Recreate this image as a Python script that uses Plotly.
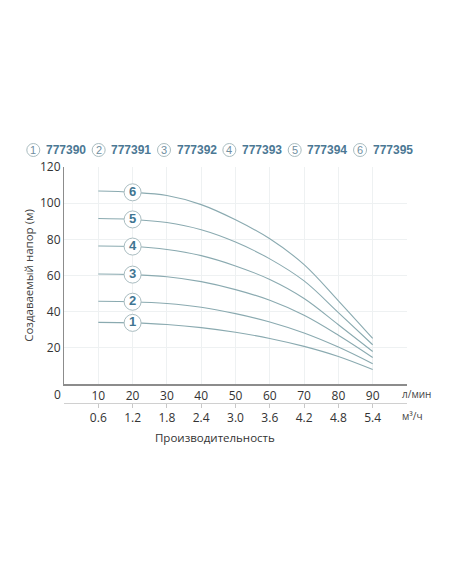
import plotly.graph_objects as go

# ---------------- data ----------------
flow_lpm = [10, 20, 30, 40, 50, 60, 70, 80, 90]
flow_m3h_labels = ["0.6", "1.2", "1.8", "2.4", "3.0", "3.6", "4.2", "4.8", "5.4"]
models = ["777390", "777391", "777392", "777393", "777394", "777395"]
curve_numbers = ["1", "2", "3", "4", "5", "6"]

head_1 = [34.1, 33.8, 32.9, 31.2, 28.6, 25.2, 20.8, 15.2, 8.0]
head_2 = [45.8, 45.5, 44.5, 42.4, 38.9, 34.3, 28.2, 20.4, 11.2]
head_3 = [60.8, 60.5, 59.3, 56.6, 52.2, 46.3, 38.0, 27.0, 14.7]
head_4 = [76.3, 76.0, 74.4, 71.0, 65.3, 57.8, 47.3, 32.8, 18.0]
head_5 = [91.5, 91.0, 89.3, 85.3, 78.5, 69.2, 57.0, 39.5, 21.7]
head_6 = [106.7, 106.0, 104.2, 99.2, 90.8, 80.3, 66.0, 46.0, 25.2]
heads = [head_1, head_2, head_3, head_4, head_5, head_6]

label_flow = 20  # where the circled numbers sit on each curve

y_ticks = [20, 40, 60, 80, 100, 120]

# ---------------- style ----------------
FONT = "Open Sans"
LINE_COLOR = "#8aaab0"
NUM_COLOR = "#3f7592"
TXT_COLOR = "#4b7894"
CIRCLE_EDGE = "#a9bcc0"

fig = go.Figure()

for h in heads:
    fig.add_trace(go.Scatter(
        x=flow_lpm, y=h, mode="lines",
        line=dict(color=LINE_COLOR, width=1.1, shape="spline", smoothing=1.0),
        showlegend=False, hoverinfo="skip"))

# circled labels on the curves
li = flow_lpm.index(label_flow)
fig.add_trace(go.Scatter(
    x=[label_flow] * len(heads), y=[h[li] for h in heads],
    mode="markers+text", text=curve_numbers, textposition="middle center",
    textfont=dict(family="Liberation Sans", size=13, color=NUM_COLOR, weight="bold"),
    marker=dict(symbol="circle", size=17, color="white",
                line=dict(color=CIRCLE_EDGE, width=1)),
    showlegend=False, hoverinfo="skip"))

# invisible trace to carry the secondary (m3/h) axis
fig.add_trace(go.Scatter(x=flow_lpm, y=[None] * len(flow_lpm), xaxis="x2",
                         mode="lines", showlegend=False, hoverinfo="skip"))

# ---------------- layout ----------------
OFF = 8  # page body margin
W, H = 452 - OFF, 584 - OFF
ml, mr, mt, mb = 64 - OFF, 45, 167 - OFF, 181
plot_w = W - ml - mr
plot_h = H - mt - mb
y_dom0 = 19 / plot_h

fig.update_layout(
    width=W, height=H,
    margin=dict(l=ml, r=mr, t=mt, b=mb, autoexpand=False),
    paper_bgcolor="white", plot_bgcolor="white",
    font=dict(family=FONT, size=12, color="#333333"),
    xaxis=dict(range=[0, 100], tickvals=flow_lpm, ticks="",
               showgrid=True, gridcolor="#eef1f2", gridwidth=1,
               showline=True, linecolor="#8c8c8c", linewidth=1.5,
               zeroline=False, tickfont=dict(size=12, color="#333333"),
               anchor="y", automargin=False),
    xaxis2=dict(range=[0, 100], tickvals=flow_lpm, ticktext=flow_m3h_labels,
                overlaying="x", anchor="free", position=0, side="bottom",
                ticks="outside", ticklen=4, tickcolor="#c8c8c8",
                showline=True, linecolor="#d0d0d0", linewidth=1,
                showgrid=False, zeroline=False, automargin=False,
                tickfont=dict(size=12, color="#333333")),
    yaxis=dict(range=[0, 120], tickvals=y_ticks, domain=[y_dom0, 1],
               showgrid=True, gridcolor="#eef1f2", gridwidth=1,
               showline=True, linecolor="#8c8c8c", linewidth=1,
               zeroline=False, ticks="", tickfont=dict(size=12, color="#333333"),
               automargin=False,
               title=dict(text="Создаваемый напор (м)", standoff=3,
                          font=dict(size=11.5, color="#444444"))),
)

def px_x(px):
    return (px - OFF - ml) / plot_w

def px_y(py):
    return (H - mb - (py - OFF)) / plot_h

# legend row: circled numbers + model codes
leg_y = px_y(150)
leg_x0 = 33.3
leg_dx = 65.35
for i, (num, model) in enumerate(zip(curve_numbers, models)):
    cx = leg_x0 + i * leg_dx
    fig.add_shape(type="circle", xref="paper", yref="paper",
                  xsizemode="pixel", ysizemode="pixel",
                  xanchor=px_x(cx), yanchor=leg_y,
                  x0=-6.5, x1=6.5, y0=-6.5, y1=6.5,
                  line=dict(color=CIRCLE_EDGE, width=1), fillcolor="white")
    fig.add_annotation(x=px_x(cx), y=leg_y, xref="paper", yref="paper",
                       text=num, showarrow=False, xanchor="center", yanchor="middle",
                       font=dict(family="Liberation Sans", size=11, color="#6f8ea0"))
    fig.add_annotation(x=px_x(cx + 10.5), y=leg_y, xref="paper", yref="paper",
                       text="<b>" + model + "</b>", showarrow=False,
                       xanchor="left", yanchor="middle",
                       font=dict(family="Liberation Sans", size=12, color=TXT_COLOR))

# axis zero label and units
fig.add_annotation(x=px_x(57.5), y=px_y(394), xref="paper", yref="paper", text="0",
                   showarrow=False, xanchor="center", yanchor="middle",
                   font=dict(size=12, color="#333333"))
fig.add_annotation(x=px_x(400), y=px_y(394), xref="paper", yref="paper", text="л/мин",
                   showarrow=False, xanchor="left", yanchor="middle",
                   font=dict(size=10, color="#444444"))
fig.add_annotation(x=px_x(400), y=px_y(416), xref="paper", yref="paper", text="м³/ч",
                   showarrow=False, xanchor="left", yanchor="middle",
                   font=dict(size=10, color="#444444"))
fig.add_annotation(x=px_x(215), y=px_y(437), xref="paper", yref="paper",
                   text="Производительность", showarrow=False,
                   xanchor="center", yanchor="middle",
                   font=dict(size=11.5, color="#333333"))

fig.write_html("out.html")
